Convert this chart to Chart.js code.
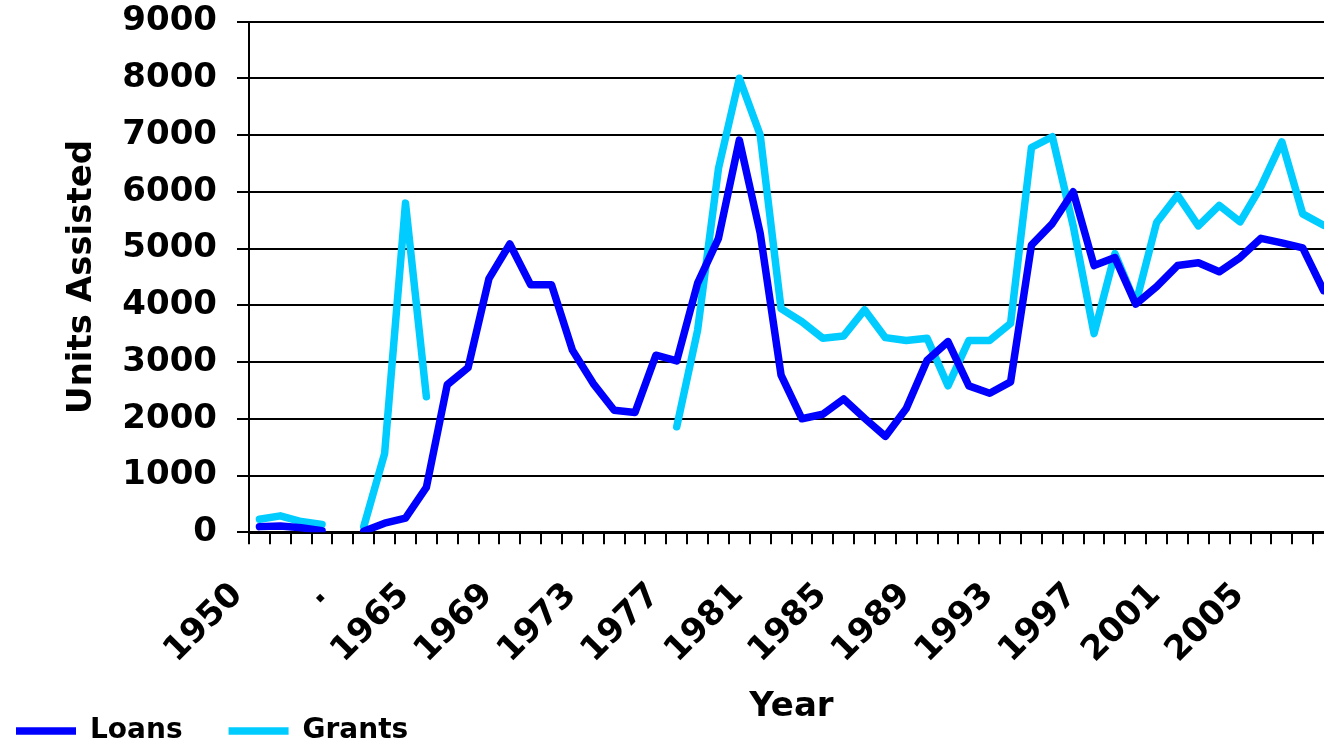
<!DOCTYPE html>
<html>
<head>
<meta charset="utf-8">
<title>Units Assisted</title>
<script src="https://cdn.jsdelivr.net/npm/chart.js@4.4.1/dist/chart.umd.min.js"></script>
<style>
    html, body { margin: 0; padding: 0; background: #fff; overflow: hidden; }
    #wrap { position: relative; width: 1324px; height: 747px; overflow: hidden; }
    /* the original picture is cropped on the left/right/bottom, so the canvas is a bit bigger */
    #chart { position: absolute; left: -30px; top: 0; }
</style>
</head>
<body>
<div id="wrap"><canvas id="chart" width="1364" height="755"></canvas></div>
<script>
// Years on the category axis ('.' marks the skipped years)
const years = [
    '1950', '1951', '1952', '1953', '.',
    '1962', '1963', '1964', '1965', '1966', '1967', '1968', '1969', '1970', '1971',
    '1972', '1973', '1974', '1975', '1976', '1977', '1978', '1979', '1980', '1981',
    '1982', '1983', '1984', '1985', '1986', '1987', '1988', '1989', '1990', '1991',
    '1992', '1993', '1994', '1995', '1996', '1997', '1998', '1999', '2000', '2001',
    '2002', '2003', '2004', '2005', '2006', '2007', '2008'
];

// Units assisted with loans
const loans = [
    100, 110, 80, 30, null,
    20, 160, 250, 790, 2600, 2900, 4470, 5080, 4360, 4360,
    3210, 2620, 2150, 2110, 3120, 3020, 4390, 5180, 6910, 5270,
    2770, 2000, 2080, 2350, 2010, 1690, 2180, 3030, 3360, 2580,
    2450, 2650, 5060, 5440, 6000, 4700, 4840, 4020, 4330, 4700,
    4750, 4590, 4840, 5180, 5100, 5010, 4260
];

// Units assisted with grants
const grants = [
    230, 290, 190, 140, null,
    100, 1390, 5800, 2390, null, null, null, null, null, null,
    null, null, null, null, null, 1860, 3560, 6410, 8000, 7000,
    3940, 3710, 3420, 3460, 3920, 3430, 3380, 3420, 2580, 3380,
    3380, 3680, 6780, 6970, 5400, 3500, 4910, 4030, 5460, 5940,
    5400, 5760, 5470, 6090, 6880, 5610, 5410
];

const yTicks = { min: 0, max: 9000, step: 1000 };
const LABEL_EVERY = 4;

Chart.defaults.font.family = "'DejaVu Sans', Verdana, sans-serif";
Chart.defaults.font.weight = 'bold';
Chart.defaults.color = '#000';

const bigFont = { size: 34, weight: 'bold' };

new Chart(document.getElementById('chart'), {
    type: 'line',
    data: {
        labels: years,
        datasets: [
            {
                label: 'Loans',
                data: loans,
                borderColor: '#0000ff',
                backgroundColor: '#0000ff',
                borderWidth: 7.5,
                borderCapStyle: 'round',
                borderJoinStyle: 'round',
                pointRadius: 0,
                fill: false,
                tension: 0,
                spanGaps: false
            },
            {
                label: 'Grants',
                data: grants,
                borderColor: '#00ccff',
                backgroundColor: '#00ccff',
                borderWidth: 7.5,
                borderCapStyle: 'round',
                borderJoinStyle: 'round',
                pointRadius: 0,
                fill: false,
                tension: 0,
                spanGaps: false
            }
        ]
    },
    options: {
        responsive: false,
        animation: false,
        events: [],
        layout: { padding: { top: 21.5, left: 0, right: 0, bottom: 0 } },
        plugins: {
            tooltip: { enabled: false },
            legend: {
                position: 'bottom',
                align: 'start',
                labels: {
                    font: { size: 28, weight: 'bold' },
                    color: '#000',
                    usePointStyle: true,
                    pointStyle: 'line',
                    pointStyleWidth: 60,
                    padding: 46
                }
            }
        },
        scales: {
            x: {
                offset: true,
                grid: {
                    display: true,
                    drawOnChartArea: false,
                    drawTicks: true,
                    tickLength: 12,
                    offset: true,
                    color: '#000',
                    lineWidth: 2
                },
                border: { display: true, color: '#000', width: 3 },
                ticks: {
                    autoSkip: false,
                    minRotation: 45,
                    maxRotation: 45,
                    padding: 31,
                    labelOffset: -22,
                    font: bigFont,
                    color: '#000',
                    callback: function(value, index) {
                        return index % LABEL_EVERY === 0 ? this.getLabelForValue(value) : '';
                    }
                },
                title: {
                    display: true,
                    text: 'Year',
                    font: bigFont,
                    color: '#000',
                    padding: { top: 0, bottom: -56.4 }
                },
                afterFit: function(scale) {
                    scale.height = 138.7;
                    scale.paddingLeft = 0;
                    scale.paddingRight = 0;
                }
            },
            y: {
                min: yTicks.min,
                max: yTicks.max,
                grid: {
                    color: '#000',
                    lineWidth: 2,
                    drawTicks: true,
                    tickLength: 12
                },
                border: { display: true, color: '#000', width: 2 },
                ticks: {
                    stepSize: yTicks.step,
                    padding: 20,
                    font: bigFont,
                    color: '#000',
                    callback: function(value) {
                        return String(value);
                    }
                },
                title: {
                    display: true,
                    text: 'Units Assisted',
                    font: bigFont,
                    color: '#000',
                    padding: { top: 92, bottom: 0 }
                },
                afterFit: function(scale) {
                    scale.width = 279;
                    scale.paddingTop = 0;
                    scale.paddingBottom = 0;
                }
            }
        }
    }
});
</script>
</body>
</html>
